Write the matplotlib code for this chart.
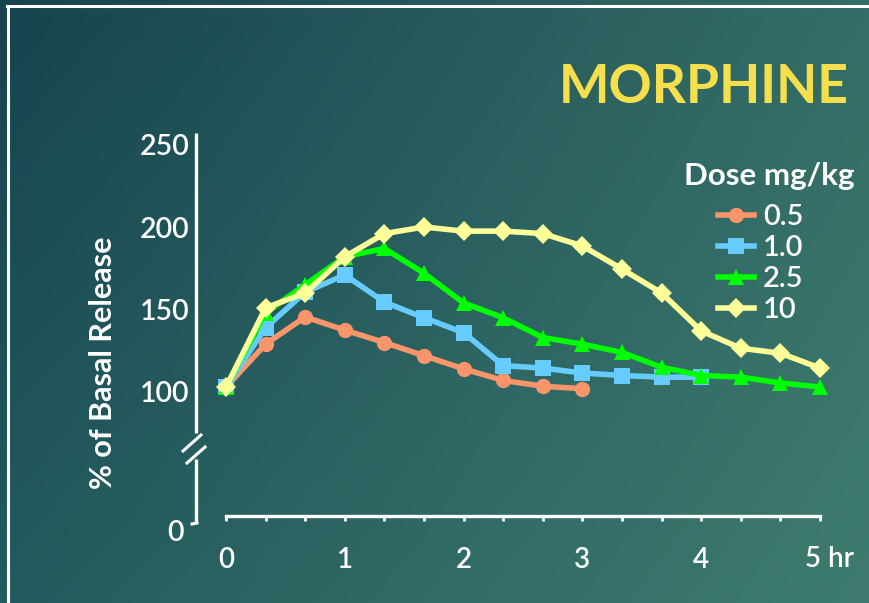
import numpy as np
import matplotlib.pyplot as plt
from matplotlib.lines import Line2D

plt.rcParams['font.family'] = ['Lato', 'DejaVu Sans']

W, H = 869, 603

# sampling times, every 20 min (hours)
t = np.arange(16) / 3

# % of basal release per dose (mg/kg)
d05 = [103, 129, 145.5, 137.5, 130, 122, 114, 107, 103.5, 102]
d1 = [103, 139, 160.5, 171, 154.5, 145, 136, 116, 114.5, 111.5, 110, 109, 109]
d25 = [103, 148, 165, 182, 187, 172, 154, 145, 133, 129, 124, 115, 110, 109, 105.5, 103]
d10 = [103, 151, 160, 182, 196, 200, 197.5, 197.5, 196, 188.5, 174.5, 160, 137, 126.5, 123.5, 114.5]

series = [d05, d1, d25, d10]
dose_labels = ['0.5', '1.0', '2.5', '10']
colors = ['#f9956a', '#66ccff', '#00ff00', '#ffff99']
markers = ['o', 's', '^', 'D']
msizes = [11, 11, 12, 10]

yticks = [100, 150, 200, 250]
xticks = [0, 1, 2, 3, 4, 5]
xticklabels = ['0', '1', '2', '3', '4', '']


def fx(x):
    return x / W


def fy(y):
    return 1 - y / H


fig = plt.figure(figsize=(W / 100, H / 100), dpi=100)

# teal gradient background
bg = fig.add_axes([0, 0, 1, 1], zorder=-5)
u = np.linspace(0, 1, 300)[None, :, None]
v = np.linspace(0, 1, 200)[:, None, None]
tl = np.array([0x17, 0x43, 0x4f]) / 255
tr = np.array([0x33, 0x6d, 0x66]) / 255
bl = np.array([0x22, 0x5b, 0x5d]) / 255
br = np.array([0x3f, 0x7c, 0x6f]) / 255
grad = (1 - v) * ((1 - u) * tl + u * tr) + v * ((1 - u) * bl + u * br)
bg.imshow(grad, aspect='auto', extent=[0, 1, 0, 1], origin='upper')
bg.set_xlim(0, 1)
bg.set_ylim(0, 1)
bg.axis('off')

# slide frame
fig.add_artist(Line2D([fx(7), 1], [fy(5.5), fy(5.5)], color='white', lw=2.2))
fig.add_artist(Line2D([fx(8), fx(8)], [fy(5.5), 0], color='white', lw=2.2))

left, right, top, bottom = 196, 830, 133, 523
ax = fig.add_axes([fx(left), fy(bottom), (right - left) / W, (bottom - top) / H])
ax.patch.set_alpha(0)

px_per_hr = 118.8
px_per_unit = 1.65
ax.set_xlim((left - 226) / px_per_hr, (right - 226) / px_per_hr)
ax.set_ylim(100 - (bottom - 392) / px_per_unit, 100 + (392 - top) / px_per_unit)

for vals, c, m, ms, lab in zip(series, colors, markers, msizes, dose_labels):
    ax.plot(t[:len(vals)], vals, color=c, lw=4, marker=m, ms=ms,
            markeredgewidth=0, label=lab, clip_on=False)

# x axis
for s in ['top', 'right', 'left']:
    ax.spines[s].set_visible(False)
x_axis_y = 100 - (516 - 392) / px_per_unit
ax.spines['bottom'].set_position(('data', x_axis_y))
ax.spines['bottom'].set_bounds(0, 5)
ax.spines['bottom'].set_color('white')
ax.spines['bottom'].set_linewidth(2.4)
ax.set_xticks(xticks)
ax.set_xticklabels(xticklabels, fontweight='semibold')
ax.set_xticks(t, minor=True)
ax.tick_params(axis='x', which='both', direction='out', length=3.5, width=2,
               color='white', labelcolor='white', labelsize=20, pad=19)
fig.text(fx(805), fy(567), '5 hr', color='white', fontsize=20,
         fontweight='semibold', ha='left', va='baseline')

# y axis with break
ax.set_yticks(yticks)
ax.set_yticklabels([str(y) for y in yticks], fontweight='semibold')
ax.tick_params(axis='y', length=0, pad=5, labelsize=20.5, labelcolor='white')
ytr = ax.get_yaxis_transform()
y_top = ax.get_ylim()[1]
y_bot = ax.get_ylim()[0]
ax.plot([0, 0], [y_top, 100 - (433 - 392) / px_per_unit], color='white', lw=2.4,
        transform=ytr, clip_on=False, solid_capstyle='butt')
ax.plot([0, 0], [100 - (459 - 392) / px_per_unit, y_bot], color='white', lw=2.4,
        transform=ytr, clip_on=False, solid_capstyle='butt')
fig.add_artist(Line2D([fx(183), fx(201)], [fy(451), fy(435)], color='white', lw=2.2))
fig.add_artist(Line2D([fx(187), fx(205)], [fy(463), fy(447)], color='white', lw=2.2))
fig.add_artist(Line2D([fx(192), fx(197)], [fy(524), fy(523)], color='white', lw=2.2))
fig.text(fx(175), fy(533), '0', color='white', fontsize=20.5, fontweight='semibold',
         ha='center', va='center')

fig.text(fx(103), fy(363), '% of Basal Release', color='white', fontsize=22,
         fontweight='bold', rotation=90, ha='center', va='center')

fig.text(fx(849), fy(103.5), 'MORPHINE', color='#f5df4d', fontsize=38.5,
         fontweight='bold', ha='right', va='baseline')

# legend
fig.text(fx(855), fy(185), 'Dose mg/kg', color='white', fontsize=22.5,
         fontweight='bold', ha='right', va='baseline')
leg = ax.legend(loc='upper left', bbox_to_anchor=(fx(718), fy(204)),
                bbox_transform=fig.transFigure, frameon=False,
                prop={'size': 21, 'weight': 'semibold'}, handlelength=1.25,
                handletextpad=0.3, labelspacing=0.17, borderpad=0,
                borderaxespad=0)
for txt in leg.get_texts():
    txt.set_color('white')

fig.savefig('out.png', dpi=100)
